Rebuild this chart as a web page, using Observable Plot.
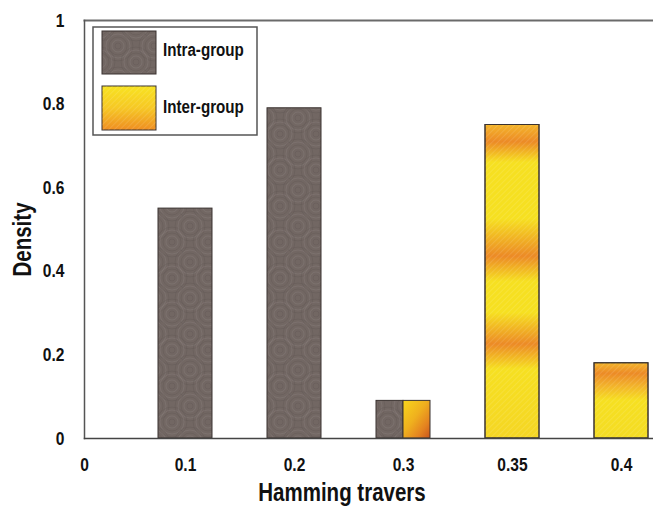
<!DOCTYPE html>
<html>
<head>
<meta charset="utf-8">
<script src="https://cdn.jsdelivr.net/npm/d3@7"></script>
<script src="https://cdn.jsdelivr.net/npm/@observablehq/plot@0.6"></script>
<style>
  html, body { margin: 0; padding: 0; background: #fff; }
  #chart { width: 653px; height: 511px; }
</style>
</head>
<body>
<div id="chart"></div>
<script>
// ---- data ----
const categories = ["0.1", "0.2", "0.3", "0.35", "0.4"];
const intraValues = [0.55, 0.79, 0.09, 0, 0];
const interValues = [0, 0, 0.09, 0.75, 0.18];
const yTicks = [0, 0.2, 0.4, 0.6, 0.8, 1];
const seriesNames = ["Intra-group", "Inter-group"];
const xTitle = "Hamming travers";
const yTitle = "Density";
const originLabel = "0";

const rows = [];
categories.forEach((c, i) => {
  const shared = intraValues[i] > 0 && interValues[i] > 0;
  rows.push({cat: c, series: seriesNames[0], value: intraValues[i], shared});
  rows.push({cat: c, series: seriesNames[1], value: interValues[i], shared});
});
const intraSolo = rows.filter(d => d.series === seriesNames[0] && d.value > 0 && !d.shared);
const interSolo = rows.filter(d => d.series === seriesNames[1] && d.value > 0 && !d.shared);
const intraShared = rows.filter(d => d.series === seriesNames[0] && d.shared);
const interShared = rows.filter(d => d.series === seriesNames[1] && d.shared);

const FONT = "'Liberation Sans', Arial, sans-serif";
const NARROW = 0.82; // emulate Arial Narrow
const half = 27;
const barStroke = "#3a3230";
const interFill = d => `url(#inter-${categories.indexOf(d.cat)})`;

const plot = Plot.plot({
  width: 653,
  height: 511,
  marginLeft: 84,
  marginRight: 0,
  marginTop: 20,
  marginBottom: 73,
  style: {fontFamily: FONT, fontWeight: "bold", color: "#111", background: "#fff"},
  x: {type: "band", domain: categories, range: [158, 648.8], paddingInner: 0.505, paddingOuter: 0, align: 0.5},
  y: {domain: [0, 1]},
  color: {type: "identity"},
  marks: [
    Plot.barY(intraSolo, {x: "cat", y: "value", fill: "url(#intra)", stroke: barStroke, strokeWidth: 1}),
    Plot.barY(intraShared, {x: "cat", y: "value", fill: "url(#intra)", stroke: barStroke, strokeWidth: 1, insetRight: half}),
    Plot.barY(interSolo, {x: "cat", y: "value", fill: interFill, stroke: barStroke, strokeWidth: 1}),
    Plot.barY(interShared, {x: "cat", y: "value", fill: interFill, stroke: barStroke, strokeWidth: 1, insetLeft: half}),
    Plot.barY(interSolo, {x: "cat", y: "value", fill: "url(#stripes)", stroke: barStroke, strokeWidth: 1}),
    Plot.frame({anchor: "top", stroke: "#6a6a6a", strokeWidth: 2}),
    Plot.frame({anchor: "left", stroke: "#555", strokeWidth: 1.5}),
    Plot.frame({anchor: "bottom", stroke: "#444", strokeWidth: 1.5}),
    Plot.axisY({ticks: yTicks, tickFormat: d => String(d), tickSize: 0, tickPadding: 20, label: null, fontSize: 19, fontWeight: "bold", fontFamily: FONT}),
    Plot.axisX({tickSize: 0, tickPadding: 19, label: null, fontSize: 19, fontWeight: "bold", fontFamily: FONT}),
    Plot.text([originLabel], {frameAnchor: "bottom-left", text: d => d, dy: 19, lineAnchor: "top", textAnchor: "middle", fontSize: 19, fontWeight: "bold", fill: "#111"}),
    Plot.text([xTitle], {frameAnchor: "bottom", text: d => d, dx: -27, dy: 54, lineAnchor: "middle", fontSize: 25, fontWeight: "bold", fill: "#111"}),
    Plot.text([yTitle], {frameAnchor: "left", text: d => d, rotate: -90, dx: -62, dy: 10, lineAnchor: "middle", textAnchor: "middle", fontSize: 25, fontWeight: "bold", fill: "#111"})
  ]
});

document.getElementById("chart").appendChild(plot);

const svg = d3.select(plot);

// condense all text horizontally (Arial Narrow look), keeping it as real text
svg.selectAll("text").each(function () {
  const t = d3.select(this);
  const isNum = v => v != null && v !== "" && !isNaN(+v);
  const xa = t.attr("x"), ya = t.attr("y");
  const tx = isNum(xa) ? +xa : 0, ty = isNum(ya) ? +ya : 0;
  if (isNum(xa)) t.attr("x", 0);
  if (isNum(ya)) t.attr("y", 0);
  const prev = t.attr("transform") || "";
  t.attr("transform", `${prev} translate(${tx},${ty}) scale(${NARROW},1)`);
});

// ---- pattern / gradient definitions ----
const defs = svg.insert("defs", ":first-child");

// intra: brown-gray with concentric swirl texture
const pIntra = defs.append("pattern").attr("id", "intra").attr("patternUnits", "userSpaceOnUse")
  .attr("width", 36).attr("height", 36);
pIntra.append("rect").attr("width", 36).attr("height", 36).attr("fill", "#726763");
[[10, 10], [28, 26], [28, -10], [-8, 26], [10, 46], [46, 10], [-8, -10], [46, 46], [-8, 46]].forEach(([cx, cy]) => {
  [3, 6, 9, 12, 15].forEach((r, k) => {
    pIntra.append("circle").attr("cx", cx).attr("cy", cy).attr("r", r)
      .attr("fill", "none").attr("stroke", k % 2 ? "#8f8482" : "#5c524e")
      .attr("stroke-width", 0.8).attr("opacity", 0.4);
  });
});

const yellow = "#f6e021", lightOrange = "#f4b52a", orange = "#ec8a26";
function vGrad(id, stops) {
  const g = defs.append("linearGradient").attr("id", id).attr("x1", 0).attr("y1", 0).attr("x2", 0).attr("y2", 1);
  stops.forEach(([o, c]) => g.append("stop").attr("offset", o).attr("stop-color", c));
}
// 0.35 bar
vGrad("inter-3", [[0, lightOrange], [0.055, orange], [0.12, yellow], [0.3, yellow], [0.42, orange], [0.5, yellow], [0.6, yellow], [0.70, orange], [0.78, yellow], [1, "#f5d624"]]);
// 0.4 bar
vGrad("inter-4", [[0, lightOrange], [0.14, orange], [0.3, "#f2b12b"], [0.5, yellow], [1, "#f4dc24"]]);
// legend swatch
vGrad("inter-legend", [[0, "#f8e321"], [0.5, "#f6c825"], [1, "#ef8e22"]]);
// 0.3 small inter bar (diagonal)
const g2 = defs.append("linearGradient").attr("id", "inter-2").attr("x1", 0).attr("y1", 0).attr("x2", 1).attr("y2", 1);
[[0, "#f8d61c"], [0.45, "#efb01e"], [0.75, "#e48320"], [1, "#c9551c"]].forEach(([o, c]) => g2.append("stop").attr("offset", o).attr("stop-color", c));

// fine diagonal stripes overlay
const pS = defs.append("pattern").attr("id", "stripes").attr("patternUnits", "userSpaceOnUse")
  .attr("width", 4).attr("height", 4).attr("patternTransform", "rotate(45)");
pS.append("rect").attr("width", 4).attr("height", 4).attr("fill", "none");
pS.append("line").attr("x1", 0).attr("y1", 0).attr("x2", 0).attr("y2", 4)
  .attr("stroke", "#ffffff").attr("stroke-opacity", 0.18).attr("stroke-width", 1.2);

// ---- legend box ----
const lg = svg.append("g").attr("font-family", FONT).attr("font-weight", "bold").attr("text-anchor", "start");
lg.append("rect").attr("x", 93).attr("y", 27).attr("width", 164).attr("height", 108)
  .attr("fill", "#fff").attr("stroke", "#555").attr("stroke-width", 1.5);
lg.append("rect").attr("x", 102).attr("y", 31).attr("width", 54).attr("height", 43)
  .attr("fill", "url(#intra)").attr("stroke", barStroke);
lg.append("rect").attr("x", 102).attr("y", 86).attr("width", 54).attr("height", 44)
  .attr("fill", "url(#inter-legend)").attr("stroke", barStroke);
lg.append("rect").attr("x", 102).attr("y", 86).attr("width", 54).attr("height", 44)
  .attr("fill", "url(#stripes)");
[[seriesNames[0], 50], [seriesNames[1], 107]].forEach(([label, y]) => {
  lg.append("text").attr("transform", `translate(163,${y}) scale(${NARROW},1)`)
    .attr("text-anchor", "start").attr("dy", "0.35em").attr("font-size", 18.5).attr("fill", "#111").text(label);
});
</script>
</body>
</html>
